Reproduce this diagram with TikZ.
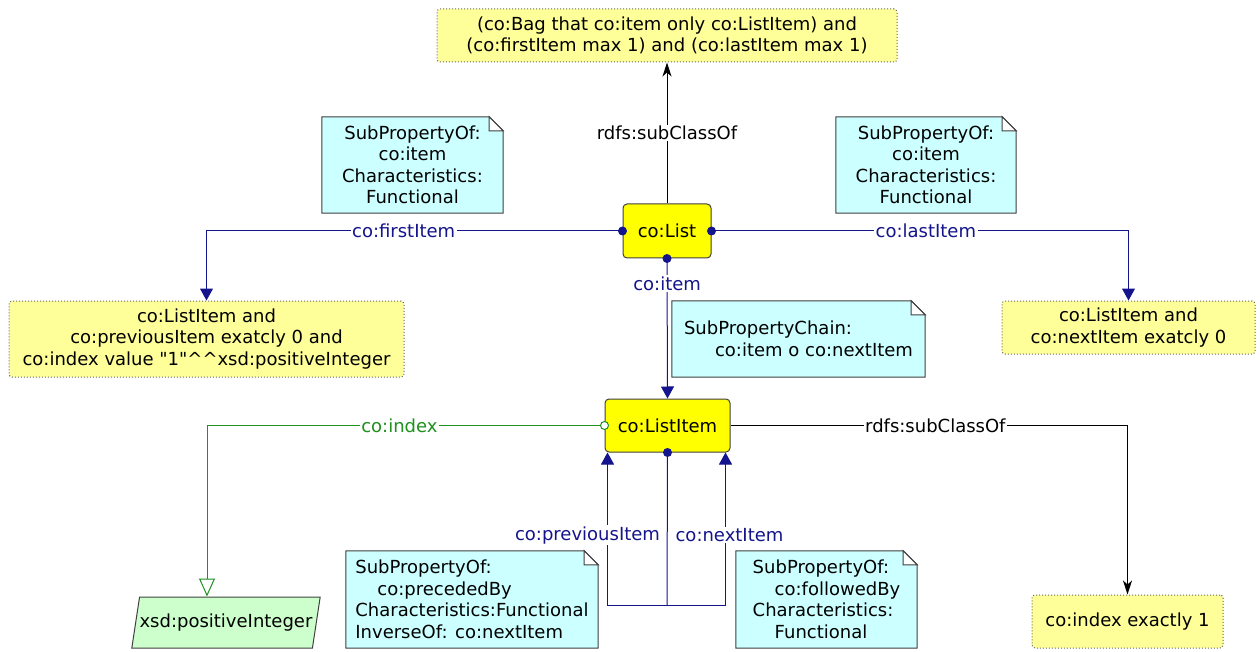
\documentclass[tikz,border=0pt]{standalone}
\usepackage{fontspec}
\setmainfont{DejaVu Sans}[Ligatures=TeXOff]
\usepackage{xcolor}
\usepackage{tikz}
\usetikzlibrary{shapes, arrows.meta, positioning, backgrounds}

\definecolor{classyellow}{HTML}{FFFF00}
\definecolor{exprfill}{HTML}{FFFF99}
\definecolor{notefill}{HTML}{CCFFFF}
\definecolor{dtfill}{HTML}{CCFFCC}
\definecolor{objblue}{RGB}{20,20,140}
\definecolor{dtgreen}{RGB}{30,145,30}

\begin{document}
\begin{tikzpicture}[x=1pt, y=-1pt, font=\fontsize{18}{21.5}\selectfont,
    class/.style={draw=black!75, fill=classyellow, rounded corners=4, line width=1pt, inner sep=0pt},
    expr/.style={draw=black!60, dotted, line width=1pt, fill=exprfill, rounded corners=3, align=center, inner sep=0pt},
    note/.style={align=left, inner sep=0pt},
    lbl/.style={fill=white, inner sep=1.5pt},
    objedge/.style={draw=objblue, line width=1pt, -{Triangle[length=12pt,width=13pt]}},
    dtedge/.style={draw=dtgreen, line width=1pt, -{Triangle[open,length=18pt,width=16pt,fill=white]}},
    subedge/.style={draw=black, line width=1pt, -{Stealth[length=14pt,width=9pt,inset=4pt]}}]
    \useasboundingbox (0,0) rectangle (1260,652);

    % classes
    \node [class, minimum width=88pt, minimum height=54pt] (list) at (667,231) {co:List};
    \node [class, minimum width=125pt, minimum height=53pt] (listitem) at (667.5,425.5) {co:ListItem};

    % class expressions
    \node [expr, minimum width=460pt, minimum height=53pt] (bag) at (667,35.5)
        {(co:Bag that co:item only co:ListItem) and\\(co:firstItem max 1) and (co:lastItem max 1)};
    \node [expr, minimum width=395pt, minimum height=76pt] (firstexpr) at (206.5,339)
        {co:ListItem and\\co:previousItem exatcly 0 and\\co:index value "1"\^{}\^{}xsd:positiveInteger};
    \node [expr, minimum width=253pt, minimum height=53pt] (lastexpr) at (1128.5,327.5)
        {co:ListItem and\\co:nextItem exatcly 0};
    \node [expr, minimum width=191pt, minimum height=53pt] (indexexpr) at (1127.5,621.5) {co:index exactly 1};

    % datatype
    \node [trapezium, trapezium left angle=66, trapezium right angle=114, trapezium stretches=true,
        draw=black!75, fill=dtfill, line width=1pt, minimum width=188pt, minimum height=51pt, inner sep=0pt]
        (xsd) at (226,622.5) {xsd:positiveInteger};

    % notes
    \node [note, align=center, minimum width=181pt, minimum height=96pt] (nfirst) at (412.5,165)
        {SubPropertyOf:\\co:item\\Characteristics:\\Functional};
    \node [note, align=center, minimum width=180pt, minimum height=96pt] (nlast) at (926,165)
        {SubPropertyOf:\\co:item\\Characteristics:\\Functional};
    \node [note, minimum width=253pt, minimum height=76pt] (nchain) at (798.5,339)
        {SubPropertyChain:\\\hspace*{31pt}co:item o co:nextItem};
    \node [note, minimum width=252pt, minimum height=97pt] (nprev) at (472,599.5)
        {SubPropertyOf:\\\hspace*{22pt}co:precededBy\\Characteristics:Functional\\InverseOf: co:nextItem};
    \node [note, minimum width=181pt, minimum height=97pt] (nnext) at (826.5,599.5)
        {SubPropertyOf:\\\hspace*{22pt}co:followedBy\\Characteristics:\\\hspace*{22pt}Functional};

    \begin{scope}[on background layer]
        \foreach \n in {nfirst,nlast,nchain,nprev,nnext} {
            \filldraw [draw=black!75, fill=notefill, line width=1pt]
                (\n.north west) -- ([xshift=-14pt]\n.north east) -- ([yshift=-14pt]\n.north east)
                -- (\n.south east) -- (\n.south west) -- cycle;
            \filldraw [draw=black!75, fill=white, line width=1pt]
                ([xshift=-14pt]\n.north east) -- ([xshift=-14pt,yshift=-14pt]\n.north east)
                -- ([yshift=-14pt]\n.north east) -- cycle;
        }
    \end{scope}

    % edges
    \draw [subedge] (list) -- node[lbl] {rdfs:subClassOf} (bag);
    \draw [objedge] (list.west) -| node[lbl, pos=0.263, text=objblue] {co:firstItem} (firstexpr.north);
    \draw [objedge] (list.east) -| node[lbl, pos=0.257, text=objblue] {co:lastItem} (lastexpr.north);
    \draw [objedge] (list.south) -- node[lbl, pos=0.18, text=objblue] {co:item} (listitem.north);

    \coordinate (fork) at (667,605);
    \draw [objedge] (fork) -| node[lbl, pos=0.729, xshift=-20pt, text=objblue] {co:previousItem}
        ([xshift=-60pt]listitem.south);
    \draw [objedge] (fork) -| node[lbl, pos=0.729, xshift=4pt, text=objblue] {co:nextItem}
        ([xshift=58pt]listitem.south);
    \draw [objblue, line width=1pt] (listitem.south) -- (fork);

    \draw [dtedge] (listitem.west) -| node[lbl, pos=0.258, text=dtgreen] {co:index}
        ([xshift=-19pt]xsd.north);
    \draw [subedge] (listitem.east) -| node[lbl, pos=0.258] {rdfs:subClassOf} (indexexpr.north);

    % end dots
    \fill [objblue] (list.west) circle (4.5pt);
    \fill [objblue] (list.east) circle (4.5pt);
    \fill [objblue] (list.south) circle (4.5pt);
    \fill [objblue] (listitem.south) circle (4.5pt);
    \filldraw [draw=dtgreen, fill=white, line width=1pt] (listitem.west) circle (4pt);
\end{tikzpicture}
\end{document}
